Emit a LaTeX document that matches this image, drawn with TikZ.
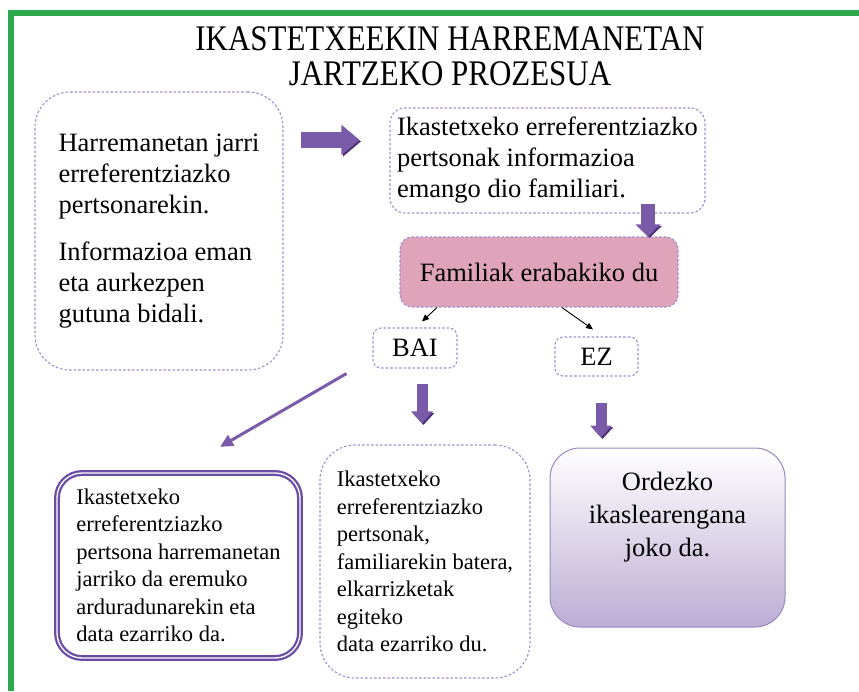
\documentclass[tikz,border=0pt]{standalone}
\usepackage{fontspec}
\setmainfont{Liberation Serif}
\usetikzlibrary{arrows.meta}
\tikzset{>=Triangle[]}
\definecolor{framegreen}{HTML}{2EA84F}
\definecolor{dashlav}{HTML}{A08CCD}
\definecolor{arrowpurple}{HTML}{7A5BAA}
\definecolor{arrowshade}{HTML}{4A3075}
\definecolor{famfill}{HTML}{DFA3BA}
\definecolor{boxpurple}{HTML}{6C4DA6}
\definecolor{ordlav}{HTML}{BCADD4}
\definecolor{ordmid}{HTML}{EEEAF5}
\definecolor{ordedge}{HTML}{9A88BF}

\begin{document}
\begin{tikzpicture}[x=1pt,y=-1pt,
    dashbox/.style={draw=dashlav,dash pattern=on 2.5pt off 2pt,line width=1.1pt,
      align=left,inner sep=0pt,font=\fontsize{26.5}{31}\selectfont},
    smallbox/.style={dashbox,font=\fontsize{22.5}{27.5}\selectfont},
    fatarrow/.style={draw=arrowpurple,line width=11pt,-{Triangle[length=12pt,width=21pt]},
      preaction={draw=arrowshade,transform canvas={xshift=1.5pt,yshift=-1.5pt}}},
    thinarrow/.style={draw=black,line width=0.9pt,-{Triangle[length=7pt,width=6pt]}}]
  \useasboundingbox (0,0) rectangle (859,691);
  \draw[framegreen,line width=6.5pt] (11,691) -- (11,13) -- (859,13);

  \node[align=center,xscale=0.86,font=\fontsize{36}{35}\selectfont] (title) at (450,56)
    {IKASTETXEEKIN HARREMANETAN\\JARTZEKO PROZESUA};

  \node[dashbox,rounded corners=35pt,minimum width=248pt,minimum height=278pt] (harr) at (159,231)
    {Harremanetan jarri\\erreferentziazko\\pertsonarekin.\\[16pt]Informazioa eman\\eta aurkezpen\\gutuna bidali.};
  \node[dashbox,rounded corners=15pt,minimum width=315pt,minimum height=105pt] (info) at (547.5,160.5)
    {Ikastetxeko erreferentziazko\\pertsonak informazioa\\emango dio familiari.};
  \node[dashbox,fill=famfill,rounded corners=12pt,minimum width=278pt,minimum height=70pt] (famil) at (539,272)
    {Familiak erabakiko du};
  \node[dashbox,rounded corners=8pt,minimum width=84pt,minimum height=40pt] (bai) at (415,348) {BAI};
  \node[dashbox,rounded corners=8pt,minimum width=83pt,minimum height=39pt] (ez) at (596.5,356.5) {EZ};

  \node[smallbox,draw=boxpurple,solid,line width=2.3pt,double=white,double distance=1.3pt,
    rounded corners=25pt,minimum width=243pt,minimum height=185pt] (arduradun) at (178.5,565.5)
    {Ikastetxeko\\erreferentziazko\\pertsona harremanetan\\jarriko da eremuko\\arduradunarekin eta\\data ezarriko da.};
  \node[smallbox,rounded corners=35pt,minimum width=210pt,minimum height=233pt] (elkarriz) at (425,561.5)
    {Ikastetxeko\\erreferentziazko\\pertsonak,\\familiarekin batera,\\elkarrizketak\\egiteko\\data ezarriko du.};
  \node[draw=ordedge,line width=1pt,top color=white,middle color=ordmid,bottom color=ordlav,
    rounded corners=30pt,minimum width=235pt,minimum height=179pt,align=center,
    font=\fontsize{26.5}{33}\selectfont] (ordezko) at (667.5,537.5)
    {Ordezko\\ikaslearengana\\joko da.\\[14pt]\mbox{}};

  \draw[fatarrow,line width=16pt,-{Triangle[length=18pt,width=29pt]},shorten <=17pt,shorten >=30pt]
    (harr.east |- 0,140) -- (info.west |- 0,140);
  \draw[fatarrow,line width=14pt,-{Triangle[length=12pt,width=24pt]},shorten <=-10pt]
    (info.south -| 648,0) -- (famil.north -| 648,0);
  \draw[thinarrow] ([xshift=-102pt]famil.south) -- ([xshift=7pt,yshift=6pt]bai.north);
  \draw[thinarrow] ([xshift=23pt]famil.south) -- ([xshift=-3.5pt,yshift=7pt]ez.north);
  \draw[fatarrow,shorten <=15pt,shorten >=21pt] (bai.south -| 422,0) -- (elkarriz.north -| 422,0);
  \draw[fatarrow,shorten <=26pt,shorten >=10pt] (ez.south -| 601,0) -- (ordezko.north -| 601,0);
  \draw[draw=arrowpurple,line width=3pt,-{Triangle[length=13pt,width=12pt]}]
    ([xshift=-26pt,yshift=-5pt]bai.south west) -- ([xshift=41.5pt,yshift=25pt]arduradun.north);
\end{tikzpicture}
\end{document}
